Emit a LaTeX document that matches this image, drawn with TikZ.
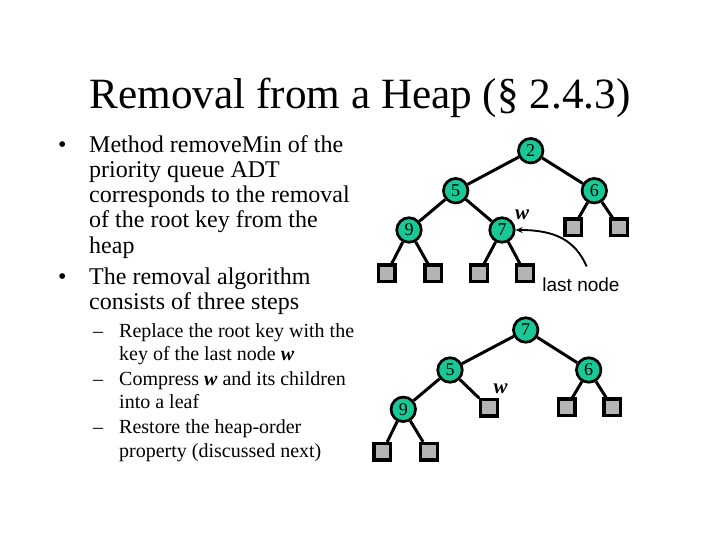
\documentclass[tikz,border=0pt]{standalone}
\usepackage{fontspec}
\setmainfont{Liberation Serif}
\newfontfamily\arialf{Liberation Sans}
\usetikzlibrary{arrows.meta}
\definecolor{keygreen}{RGB}{24,200,150}
\definecolor{leafgray}{RGB}{180,180,180}
\tikzset{
  key/.style={circle,draw=black,line width=2.7pt,fill=keygreen,minimum size=24.5pt,inner sep=0pt,font=\fontsize{18}{18}\selectfont},
  leaf/.style={rectangle,draw=black,line width=3.2pt,fill=leafgray,minimum size=16.5pt,inner sep=0pt},
  edge/.style={line width=3pt},
  bline/.style={anchor=base west,inner sep=0pt,font=\fontsize{24}{25}\selectfont},
  sline/.style={anchor=base west,inner sep=0pt,font=\fontsize{20}{22}\selectfont},
  wlab/.style={anchor=base,inner sep=0pt,font=\fontsize{21}{21}\selectfont\bfseries\itshape}
}
\begin{document}
\begin{tikzpicture}[x=1pt,y=-1pt]
\useasboundingbox (0,0) rectangle (720,540);
% title
\node[anchor=base,inner sep=0pt,font=\fontsize{43.2}{44}\selectfont] (title) at (360,109) {Removal from a Heap (§ 2.4.3)};
% bullets
\node[bline] (b1) at (58,153) {•};
\node[bline] (l1) at (89,153) {Method removeMin of the};
\node[bline] (l2) at (89,178) {priority queue ADT};
\node[bline] (l3) at (89,203) {corresponds to the removal};
\node[bline] (l4) at (89,228) {of the root key from the};
\node[bline] (l5) at (89,253) {heap};
\node[bline] (b2) at (58,284) {•};
\node[bline] (l6) at (89,284) {The removal algorithm};
\node[bline] (l7) at (89,309) {consists of three steps};
% sub bullets
\node[sline] (d1) at (93,337) {–};
\node[sline] (s1) at (119,337) {Replace the root key with the};
\node[sline] (s2) at (119,360) {key of the last node \textbf{\textit{w}}};
\node[sline] (d2) at (93,385) {–};
\node[sline] (s3) at (119,385) {Compress \textbf{\textit{w}} and its children};
\node[sline] (s4) at (119,408) {into a leaf};
\node[sline] (d3) at (93,433) {–};
\node[sline] (s5) at (119,433) {Restore the heap-order};
\node[sline] (s6) at (119,457) {property (discussed next)};
% top tree
\node[key] (t2) at (530.7,150.7) {2};
\node[key] (t5) at (455.7,190.7) {5};
\node[key] (t6) at (594.3,190.7) {6};
\node[key] (t9) at (409,230) {9};
\node[key] (t7) at (502,230) {7};
\node[leaf] (ta) at (386.7,273.3) {};
\node[leaf] (tb) at (433.3,273.3) {};
\node[leaf] (tc) at (479,273.3) {};
\node[leaf] (td) at (525,273.3) {};
\node[leaf] (te) at (573.3,227.3) {};
\node[leaf] (tf) at (619,227.3) {};
\draw[edge] (t2) -- (t5);
\draw[edge] (t2) -- (t6);
\draw[edge] (t5) -- (t9);
\draw[edge] (t5) -- (t7);
\draw[edge] (t9) -- (ta);
\draw[edge] (t9) -- (tb);
\draw[edge] (t7) -- (tc);
\draw[edge] (t7) -- (td);
\draw[edge] (t6) -- (te);
\draw[edge] (t6) -- (tf);
\node[wlab] (tw) at (522,220) {w};
\node[anchor=base,inner sep=0pt,font=\arialf\fontsize{19}{19}\selectfont] (last) at (581,291.7) {last node};
\coordinate (arrstart) at (586.7,266.5);
\draw[line width=1.9pt,-{Stealth[length=7pt,width=6pt]}] (arrstart) .. controls (575,240) and (555,230) .. (t7.east);
% bottom tree
\node[key] (u7) at (525.7,330) {7};
\node[key] (u5) at (450,370) {5};
\node[key] (u6) at (588.7,370) {6};
\node[key] (u9) at (403.3,409.3) {9};
\node[leaf] (uw) at (489,407.7) {};
\node[leaf] (ua) at (566.7,407.3) {};
\node[leaf] (ub) at (612.3,407.3) {};
\node[leaf] (uc) at (382.3,451.7) {};
\node[leaf] (ud) at (429,451.7) {};
\draw[edge] (u7) -- (u5);
\draw[edge] (u7) -- (u6);
\draw[edge] (u5) -- (u9);
\draw[edge] (u5) -- (uw);
\draw[edge] (u6) -- (ua);
\draw[edge] (u6) -- (ub);
\draw[edge] (u9) -- (uc);
\draw[edge] (u9) -- (ud);
\node[wlab] (bw) at (500.7,393) {w};
\end{tikzpicture}
\end{document}
